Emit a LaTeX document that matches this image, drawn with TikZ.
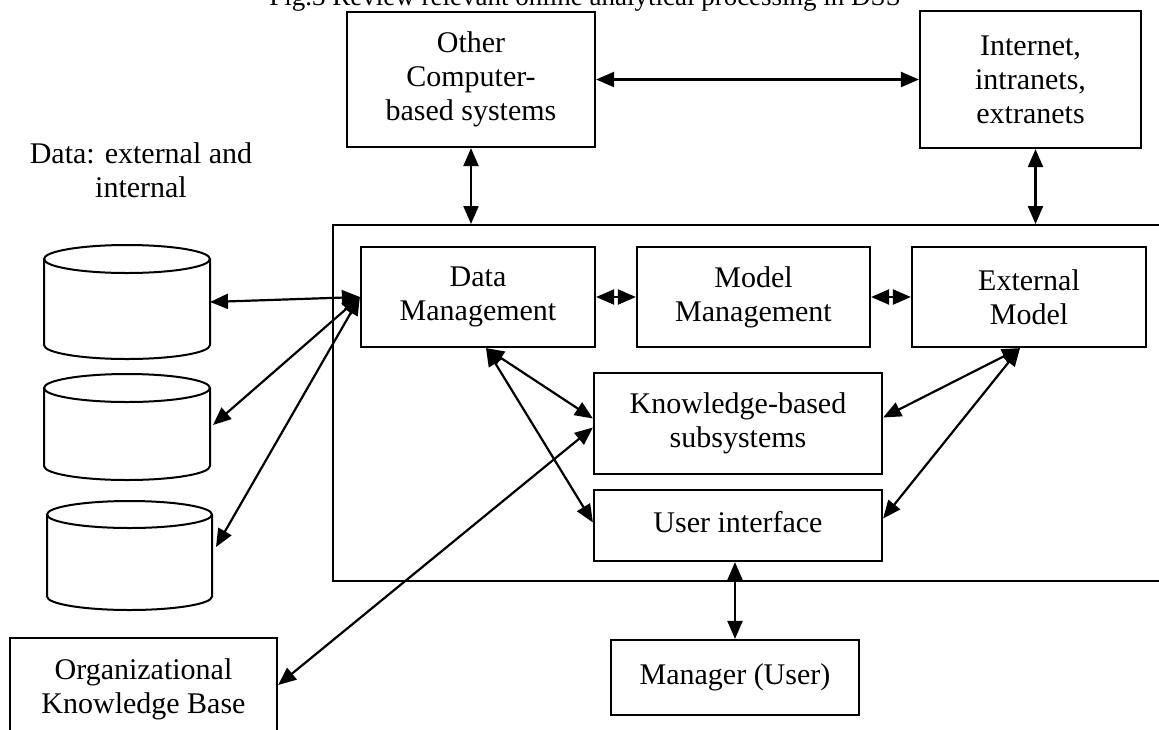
\documentclass[tikz,border=0pt]{standalone}
\usepackage{fontspec}
\setmainfont{Liberation Serif}
\usetikzlibrary{arrows.meta}
\begin{document}
\begin{tikzpicture}[x=1pt,y=-1pt,
  box/.style={draw, line width=2.2pt, align=center, inner sep=0pt, font=\fontsize{30}{34}\selectfont},
  lbl/.style={align=center, inner sep=0pt, font=\fontsize{30}{34}\selectfont},
  conn/.style={line width=2.2pt, {Triangle[length=18pt,width=15pt]}-{Triangle[length=18pt,width=15pt]}},
  drum/.style={line width=2pt}]
\useasboundingbox (0,0) rectangle (1159,729);
% title
\node[lbl, font=\fontsize{27}{30}\selectfont, anchor=base] (title) at (585,5) {Fig.3 Review relevant online analytical processing in DSS};
% boxes
\node[box, minimum width=248pt, minimum height=135pt] (other) at (471,79.5) {Other\\Computer-\\based systems};
\node[box, minimum width=221pt, minimum height=137pt] (inet) at (1030.5,79.5) {Internet,\\intranets,\\extranets};
\node[box, line width=2pt, minimum width=842pt, minimum height=356pt] (cont) at (754,403) {};
\node[box, minimum width=234pt, minimum height=100pt] (dm) at (478,297) {Data\\Management};
\node[box, minimum width=233pt, minimum height=100pt] (mm) at (753.5,297) {Model\\Management};
\node[box, minimum width=234pt, minimum height=100pt] (em) at (1029,297) {External\\Model};
\node[box, minimum width=288pt, minimum height=101pt] (kb) at (738,423.5) {Knowledge-based\\subsystems};
\node[box, minimum width=288pt, minimum height=71pt, text depth=8pt] (ui) at (738,525.5) {User interface};
\node[box, minimum width=248pt, minimum height=75pt] (mgr) at (735,677.5) {Manager (User)};
\node[box, minimum width=267pt, minimum height=102pt] (okb) at (143.5,689) {Organizational\\Knowledge Base};
\node[lbl] (data) at (141,170) {Data: external and\\internal};
% cylinders
\draw[drum] (44,259) -- (44,345) arc[start angle=180, end angle=0, x radius=83, y radius=14] -- (210,259);
\draw[drum] (127,259) ellipse[x radius=83, y radius=14];
\draw[drum] (44,388) -- (44,466) arc[start angle=180, end angle=0, x radius=83, y radius=14] -- (210,388);
\draw[drum] (127,388) ellipse[x radius=83, y radius=14];
\draw[drum] (47,514.5) -- (47,596.5) arc[start angle=180, end angle=0, x radius=82.5, y radius=13.5] -- (212,514.5);
\draw[drum] (129.5,514.5) ellipse[x radius=82.5, y radius=13.5];
\coordinate (c1) at (210,302);
\coordinate (c2) at (213,425);
\coordinate (c3) at (216,547);
% connectors
\draw[conn] (other.south) -- (other.south |- cont.north);
\draw[conn] ([xshift=5pt]inet.south) -- ([xshift=5pt]inet.south |- cont.north);
\draw[conn] (other.east) -- (inet.west);
\draw[conn] (dm.east) -- (mm.west);
\draw[conn] (mm.east) -- (em.west);
\draw[conn] (mgr.north |- ui.south) -- (mgr.north);
\draw[conn] (dm.west) -- (c1);
\draw[conn] (dm.west) -- (c2);
\draw[conn] (dm.west) -- (c3);
\draw[conn] ([xshift=8pt]dm.south) -- ([yshift=5pt]kb.west);
\draw[conn] ([xshift=8pt]dm.south) -- ([yshift=3pt]ui.west);
\draw[conn] ([yshift=4pt]okb.east) -- ([yshift=-4pt]kb.west);
\draw[conn] ([xshift=-9pt]em.south) -- ([yshift=6pt]kb.east);
\draw[conn] ([xshift=-9pt]em.south) -- ([yshift=7pt]ui.east);
\end{tikzpicture}
\end{document}
